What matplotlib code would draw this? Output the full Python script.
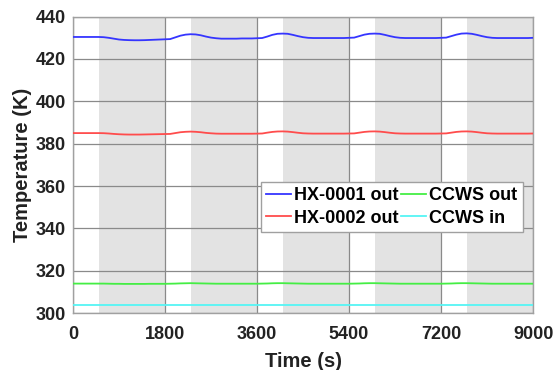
import matplotlib
matplotlib.use("Agg")
import matplotlib.pyplot as plt
import numpy as np

plt.rcParams['font.family'] = ['Liberation Sans', 'DejaVu Sans']
plt.rcParams['font.weight'] = 'bold'

time_s = list(range(0, 9001, 100))

hx1_out = [
    430.4, 430.4, 430.4, 430.4, 430.4, 430.4, 430.3, 430.0, 429.6, 429.2,
    429.0, 428.9, 428.85, 428.85, 428.9, 429.0, 429.1, 429.2, 429.3,
    429.4, 430.2, 431.0, 431.5, 431.7, 431.6, 431.2, 430.6, 430.1, 429.8,
    429.6, 429.6, 429.6, 429.6, 429.7, 429.7, 429.7, 429.8,
    429.9, 430.6, 431.4, 431.9, 432.0, 431.9, 431.4, 430.8, 430.3, 430.0,
    429.9, 429.9, 429.9, 429.9, 429.9, 429.9, 429.9, 430.0,
    430.1, 430.8, 431.5, 431.9, 432.0, 431.9, 431.4, 430.8, 430.3, 430.0,
    429.9, 429.9, 429.9, 429.9, 429.9, 429.9, 429.9, 430.0,
    430.1, 430.8, 431.5, 432.0, 432.1, 431.9, 431.4, 430.8, 430.3, 430.0,
    429.9, 429.9, 429.9, 429.9, 429.9, 429.9, 429.9, 430.0,
]

hx2_out = [
    385.0, 385.0, 385.0, 385.0, 385.0, 385.0, 384.95, 384.8, 384.6, 384.45,
    384.35, 384.3, 384.3, 384.3, 384.35, 384.4, 384.45, 384.5, 384.55,
    384.6, 385.0, 385.4, 385.6, 385.7, 385.6, 385.4, 385.1, 384.9, 384.75,
    384.7, 384.7, 384.7, 384.7, 384.7, 384.7, 384.7, 384.75,
    384.8, 385.2, 385.55, 385.75, 385.8, 385.7, 385.45, 385.15, 384.9, 384.8,
    384.75, 384.75, 384.75, 384.75, 384.75, 384.75, 384.75, 384.8,
    384.85, 385.2, 385.55, 385.75, 385.8, 385.7, 385.45, 385.15, 384.9, 384.8,
    384.75, 384.75, 384.75, 384.75, 384.75, 384.75, 384.75, 384.8,
    384.85, 385.2, 385.55, 385.75, 385.8, 385.7, 385.45, 385.15, 384.9, 384.8,
    384.75, 384.75, 384.75, 384.75, 384.75, 384.75, 384.75, 384.8,
]

ccws_out = [
    313.9, 313.9, 313.9, 313.9, 313.9, 313.9, 313.9, 313.85, 313.8, 313.8,
    313.75, 313.75, 313.75, 313.75, 313.75, 313.8, 313.8, 313.8, 313.8,
    313.85, 313.9, 314.0, 314.05, 314.1, 314.05, 314.0, 313.95, 313.9, 313.85,
    313.85, 313.85, 313.85, 313.85, 313.85, 313.85, 313.85, 313.85,
    313.9, 313.95, 314.05, 314.1, 314.1, 314.05, 314.0, 313.95, 313.9, 313.85,
    313.85, 313.85, 313.85, 313.85, 313.85, 313.85, 313.85, 313.85,
    313.9, 313.95, 314.05, 314.1, 314.1, 314.05, 314.0, 313.95, 313.9, 313.85,
    313.85, 313.85, 313.85, 313.85, 313.85, 313.85, 313.85, 313.85,
    313.9, 313.95, 314.05, 314.1, 314.1, 314.05, 314.0, 313.95, 313.9, 313.85,
    313.85, 313.85, 313.85, 313.85, 313.85, 313.85, 313.85, 313.85,
]

ccws_in = [304.0] * len(time_s)

# shaded (gray) intervals in seconds
shade_start = [500, 2300, 4100, 5900, 7700]
shade_end = [1800, 3600, 5400, 7200, 9000]

series_labels = ['HX-0001 out', 'HX-0002 out', 'CCWS out', 'CCWS in']
x_ticks = [0, 1800, 3600, 5400, 7200, 9000]
y_ticks = [300, 320, 340, 360, 380, 400, 420, 440]

fig = plt.figure(figsize=(5.55, 3.7), dpi=100)
ax = fig.add_axes([0.1315, 0.154, 0.829, 0.801])

for s, e in zip(shade_start, shade_end):
    ax.axvspan(s, e, color='#e3e3e3', lw=0, zorder=0)

colors = ['#3535ff', '#ff4c4c', '#44ee44', '#55f5f5']
data = [hx1_out, hx2_out, ccws_out, ccws_in]
lines = []
for d, c, lab in zip(data, colors, series_labels):
    ln, = ax.plot(time_s, d, color=c, lw=1.3, label=lab, zorder=3)
    lines.append(ln)

ax.set_xlim(0, 9000)
ax.set_ylim(300, 440)
ax.set_xticks(x_ticks)
ax.set_yticks(y_ticks)
ax.grid(True, color='#8a8a8a', lw=0.9, zorder=1)
ax.set_axisbelow(True)
for sp in ax.spines.values():
    sp.set_color('#a0a0a0')
    sp.set_linewidth(1.0)
ax.tick_params(length=0, labelsize=13, colors='#222222')
ax.tick_params(axis='x', pad=9)
ax.tick_params(axis='y', pad=5)
for lbl in ax.get_xticklabels() + ax.get_yticklabels():
    lbl.set_fontweight('bold')

ax.set_xlabel('Time (s)', fontsize=14.5, fontweight='bold', color='#222222', labelpad=7)
ax.set_ylabel('Temperature (K)', fontsize=14.5, fontweight='bold', color='#222222', labelpad=3)

handles = [lines[0], lines[1], lines[2], lines[3]]
leg = ax.legend(handles, [h.get_label() for h in handles], ncol=2,
                loc='upper right', bbox_to_anchor=(0.978, 0.443),
                fancybox=False, framealpha=1, edgecolor='#a0a0a0',
                prop={'weight': 'bold', 'size': 13},
                handlelength=1.35, handletextpad=0.2, columnspacing=0.15,
                borderpad=0.3, labelspacing=0.3, borderaxespad=0)
leg.get_frame().set_linewidth(1.0)

fig.savefig('out.png', dpi=100)
